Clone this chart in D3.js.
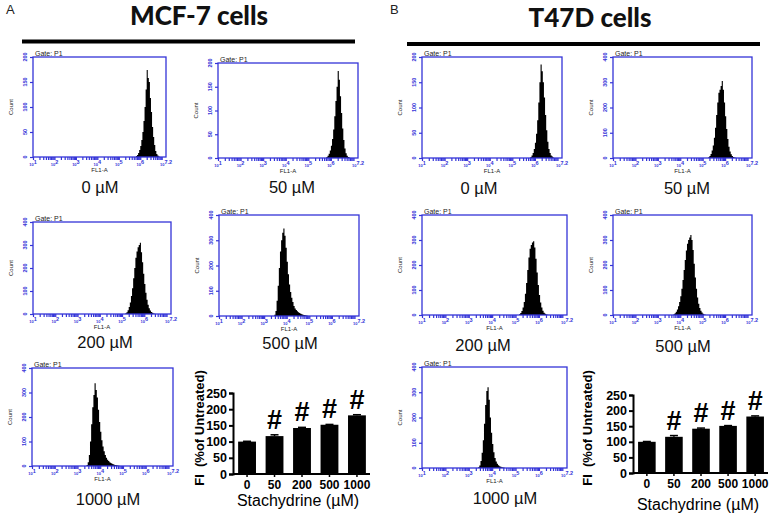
<!DOCTYPE html>
<html><head><meta charset="utf-8">
<script src="https://cdn.jsdelivr.net/npm/d3@7"></script>
<style>
html,body{margin:0;padding:0;background:#fff;}
svg{display:block;font-family:"Liberation Sans",Arial,sans-serif;}
</style></head>
<body>
<svg id="chart" width="775" height="516"></svg>
<script>
// ---------------- DATA ----------------
const panelTitles = ["MCF-7 cells", "T47D cells"];
const panelLetters = ["A", "B"];
const concLabels = ["0 µM", "50 µM", "200 µM", "500 µM", "1000 µM"];

// flow histograms: counts per bin of log10(FL1-A), bin width 0.05 log units
const binWidth = 0.05;
const histXTicks = [1, 2, 3, 4, 5, 6, 7.2];
const histXLabel = "FL1-A";
const histYLabel = "Count";
const gateLabel = "Gate: P1";

const mcfHistStarts = [5.80, 5.80, 5.15, 3.45, 3.40];
const mcfYMax = [200, 200, 400, 400, 400];
const mcfHist0 = [2, 4, 8, 14, 22, 34, 50, 72, 100, 135, 174, 158, 150, 118, 90, 60, 40, 24, 12, 6, 3, 1];
const mcfHist50 = [2, 5, 9, 16, 26, 40, 60, 88, 120, 150, 183, 165, 130, 95, 62, 38, 20, 10, 5, 2, 1];
const mcfHist200 = [3, 8, 16, 30, 50, 78, 112, 155, 200, 245, 272, 290, 300, 310, 268, 225, 175, 130, 92, 62, 40, 25, 15, 9, 5, 2, 1];
const mcfHist500 = [5, 20, 60, 120, 190, 255, 300, 330, 347, 318, 270, 215, 165, 125, 95, 72, 55, 40, 30, 24, 19, 15, 12, 9, 7, 5, 4, 3, 2, 1];
const mcfHist1000 = [4, 15, 45, 100, 170, 240, 290, 338, 310, 280, 230, 180, 140, 105, 80, 60, 45, 34, 26, 20, 15, 12, 9, 7, 5, 4, 3, 2, 1];

const t47HistStarts = [5.80, 5.25, 5.15, 3.70, 3.40];
const t47YMax = [200, 400, 400, 400, 400];
const t47Hist0 = [2, 5, 10, 18, 30, 48, 75, 110, 150, 185, 172, 150, 120, 85, 55, 32, 18, 10, 5, 3, 1];
const t47Hist50 = [3, 8, 16, 30, 50, 80, 120, 170, 220, 258, 270, 285, 305, 270, 220, 165, 115, 75, 45, 26, 15, 8, 4, 2, 1];
const t47Hist200 = [3, 8, 16, 30, 52, 85, 128, 180, 230, 265, 280, 290, 295, 270, 225, 170, 120, 80, 50, 30, 17, 9, 5, 2, 1];
const t47Hist500 = [3, 7, 13, 22, 35, 52, 75, 105, 140, 180, 220, 258, 285, 300, 310, 320, 300, 260, 205, 150, 105, 70, 45, 28, 17, 10, 5, 2, 1];
const t47Hist1000 = [3, 10, 28, 60, 110, 175, 250, 305, 320, 270, 200, 140, 95, 62, 40, 26, 17, 11, 7, 5, 3, 2, 1];

// bar charts
const barCategories = ["0", "50", "200", "500", "1000"];
const mcfBarValues = [100, 117, 142, 152, 181];
const mcfBarErrors = [1, 4, 2, 1, 2];
const mcfBarSignif = [false, true, true, true, true];
const t47BarValues = [100, 116, 142, 151, 181];
const t47BarErrors = [1, 4, 2, 1, 2];
const t47BarSignif = [false, true, true, true, true];
const barYTicks = [0, 50, 100, 150, 200, 250];
const barYLabel = "FI  (%of Untreated)";
const barXLabel = "Stachydrine (µM)";

// ---------------- LAYOUT ----------------
const svg = d3.select("#chart");
const BLUE = "#3434d8";

const headers = [
  {letterX: 6, letterY: 14, titleX: 199, titleY: 25, lineX1: 22, lineX2: 355, lineY: 41.5},
  {letterX: 390, letterY: 14, titleX: 590, titleY: 27, lineX1: 407, lineX2: 760, lineY: 44}
];
headers.forEach((h, i) => {
  svg.append("text").attr("x", h.letterX).attr("y", h.letterY)
    .attr("font-size", 13).attr("fill", "#222").text(panelLetters[i]);
  svg.append("text").attr("x", h.titleX).attr("y", h.titleY)
    .attr("text-anchor", "middle").attr("font-family", "Lato, 'Open Sans', sans-serif")
    .attr("font-weight", 900).attr("font-size", 26).attr("fill", "#111").text(panelTitles[i]);
  svg.append("line").attr("x1", h.lineX1).attr("x2", h.lineX2)
    .attr("y1", h.lineY).attr("y2", h.lineY).attr("stroke", "#000").attr("stroke-width", 4);
});

const mcfBoxes = [
  {x: 33, y: 57, w: 133, h: 100, lx: 100, ly: 193},
  {x: 218, y: 63, w: 140, h: 95, lx: 292, ly: 193},
  {x: 33, y: 222, w: 138, h: 92, lx: 105, ly: 348},
  {x: 219, y: 215, w: 140, h: 101, lx: 290, ly: 349},
  {x: 32, y: 368, w: 141, h: 98, lx: 108, ly: 505}
];
const t47Boxes = [
  {x: 422, y: 57, w: 140, h: 101, lx: 479, ly: 194},
  {x: 613, y: 57, w: 139, h: 101, lx: 687, ly: 194},
  {x: 422, y: 215, w: 145, h: 100, lx: 483, ly: 351},
  {x: 613, y: 215, w: 139, h: 100, lx: 683, ly: 352},
  {x: 422, y: 367, w: 145, h: 101, lx: 505, ly: 504}
];

const mcfHists = [mcfHist0, mcfHist50, mcfHist200, mcfHist500, mcfHist1000];
const t47Hists = [t47Hist0, t47Hist50, t47Hist200, t47Hist500, t47Hist1000];

function drawHist(box, start, counts, ymax, label) {
  const g = svg.append("g");
  const x = d3.scaleLinear().domain([1, 7.2]).range([box.x, box.x + box.w]);
  const y = d3.scaleLinear().domain([0, ymax]).range([box.y + box.h, box.y]);
  const pts = counts.map((c, i) => ({v: start + i * binWidth, c}));
  pts.push({v: start + counts.length * binWidth, c: 0});
  pts.unshift({v: start - binWidth * 0.2, c: 0});
  const area = d3.area().curve(d3.curveStepAfter)
    .x(d => x(d.v)).y0(y(0)).y1(d => y(d.c));
  g.append("path").datum(pts).attr("d", area).attr("fill", "#000");

  // box
  g.append("rect").attr("x", box.x).attr("y", box.y).attr("width", box.w).attr("height", box.h)
    .attr("fill", "none").attr("stroke", BLUE).attr("stroke-width", 1.3);

  // y axis ticks (rotated labels)
  const yt = d3.range(0, ymax + 1, ymax / 4);
  const ya = d3.axisLeft(y).tickValues(yt).tickSize(3).tickFormat("");
  const yg = g.append("g").attr("transform", `translate(${box.x},0)`).call(ya);
  yg.select(".domain").remove();
  yg.selectAll("line").attr("stroke", BLUE).attr("stroke-width", 1.2);
  yt.forEach(t => {
    g.append("text").attr("transform", `translate(${box.x - 6},${y(t)}) rotate(-90)`)
      .attr("text-anchor", "middle").attr("font-size", 5.5).attr("font-weight", "bold")
      .attr("fill", BLUE).text(t);
  });
  g.append("text").attr("transform", `translate(${box.x - 20},${box.y + box.h / 2}) rotate(-90)`)
    .attr("text-anchor", "middle").attr("font-size", 6).attr("fill", "#222").text(histYLabel);

  // x axis: log ticks (major + minor) below the box
  const minor = [];
  for (let d = 1; d < 7.2; d++) {
    for (let m = 1; m <= 9; m++) {
      const v = d + Math.log10(m);
      if (v <= 7.2) minor.push(v);
    }
  }
  const xa = d3.axisBottom(x).tickValues(minor).tickSize(3).tickFormat("");
  const xg = g.append("g").attr("transform", `translate(0,${box.y + box.h})`).call(xa);
  xg.select(".domain").remove();
  xg.selectAll("line").attr("stroke", BLUE).attr("stroke-width", 1.2);
  histXTicks.forEach(t => {
    const tx = g.append("text").attr("x", x(t)).attr("y", box.y + box.h + 9)
      .attr("text-anchor", "middle").attr("fill", BLUE).attr("font-weight", "bold");
    tx.append("tspan").attr("font-size", 4).text("10");
    tx.append("tspan").attr("font-size", 5.5).attr("dy", -2).text(t);
  });
  g.append("text").attr("x", box.x + box.w / 2).attr("y", box.y + box.h + 15)
    .attr("text-anchor", "middle").attr("font-size", 6).attr("fill", "#222").text(histXLabel);

  // gate label
  g.append("text").attr("x", box.x + 2).attr("y", box.y - 1)
    .attr("font-size", 7).attr("fill", "#222").text(gateLabel);

  // concentration label
  svg.append("text").attr("x", box.lx).attr("y", box.ly).attr("text-anchor", "middle")
    .attr("font-size", 16.5).attr("fill", "#111").text(label);
}

mcfBoxes.forEach((b, i) => drawHist(b, mcfHistStarts[i], mcfHists[i], mcfYMax[i], concLabels[i]));
t47Boxes.forEach((b, i) => drawHist(b, t47HistStarts[i], t47Hists[i], t47YMax[i], concLabels[i]));

// ---------------- BAR CHARTS ----------------
const barLayouts = [
  {axisX: 233, y0: 474, yTop: 393, x1: 370, ylabX: 204, ylabY: 428, xlabY: 489, titleX: 298, titleY: 506},
  {axisX: 633, y0: 473, yTop: 395, x1: 768, ylabX: 592, ylabY: 428, xlabY: 491, titleX: 698, titleY: 510}
];
const barData = [
  {values: mcfBarValues, errors: mcfBarErrors, signif: mcfBarSignif},
  {values: t47BarValues, errors: t47BarErrors, signif: t47BarSignif}
];

barLayouts.forEach((L, k) => {
  const D = barData[k];
  const g = svg.append("g");
  const x = d3.scaleBand().domain(barCategories).range([L.axisX + 1, L.x1])
    .paddingInner(0.35).paddingOuter(0.15);
  const y = d3.scaleLinear().domain([0, 250]).range([L.y0, L.yTop]);

  g.selectAll("rect.bar").data(barCategories).join("rect")
    .attr("x", c => x(c)).attr("width", x.bandwidth())
    .attr("y", (c, i) => y(D.values[i])).attr("height", (c, i) => y(0) - y(D.values[i]))
    .attr("fill", "#000");

  // error bars
  barCategories.forEach((c, i) => {
    const cx = x(c) + x.bandwidth() / 2;
    const top = y(D.values[i] + D.errors[i]);
    g.append("line").attr("x1", cx).attr("x2", cx).attr("y1", y(D.values[i])).attr("y2", top)
      .attr("stroke", "#000").attr("stroke-width", 1.5);
    g.append("line").attr("x1", cx - 4).attr("x2", cx + 4).attr("y1", top).attr("y2", top)
      .attr("stroke", "#000").attr("stroke-width", 1.5);
    if (D.signif[i]) {
      g.append("text").attr("x", cx).attr("y", top - 6).attr("text-anchor", "middle")
        .attr("font-size", 27).attr("font-weight", "bold").attr("fill", "#000").text("#");
    }
  });

  // y axis
  const ya = d3.axisLeft(y).tickValues(barYTicks).tickSize(4).tickPadding(2);
  const yg = g.append("g").attr("transform", `translate(${L.axisX},0)`).call(ya);
  yg.select(".domain").attr("stroke-width", 2);
  yg.selectAll("line").attr("stroke-width", 2);
  yg.selectAll("text").attr("font-size", 12.5).attr("font-weight", "bold")
    .attr("font-family", "'Liberation Sans', Arial, sans-serif").attr("fill", "#000");

  // x axis
  const xa = d3.axisBottom(x).tickSize(3).tickPadding(3).tickSizeOuter(0);
  const xg = g.append("g").attr("transform", `translate(0,${L.y0})`).call(xa);
  xg.select(".domain").attr("stroke-width", 2).attr("d", `M${L.axisX},0H${L.x1}`);
  xg.selectAll("line").attr("stroke-width", 1.5);
  xg.selectAll("text").attr("font-size", 12).attr("font-weight", "bold")
    .attr("font-family", "'Liberation Sans', Arial, sans-serif").attr("fill", "#000");

  g.append("text").attr("transform", `translate(${L.ylabX},${L.ylabY}) rotate(-90)`)
    .attr("text-anchor", "middle").attr("font-size", 13).attr("font-weight", "bold")
    .attr("fill", "#000").attr("xml:space", "preserve").style("white-space", "pre").text(barYLabel);
  g.append("text").attr("x", L.titleX).attr("y", L.titleY).attr("text-anchor", "middle")
    .attr("font-size", 16).attr("fill", "#000").text(barXLabel);
});
</script>
</body></html>
